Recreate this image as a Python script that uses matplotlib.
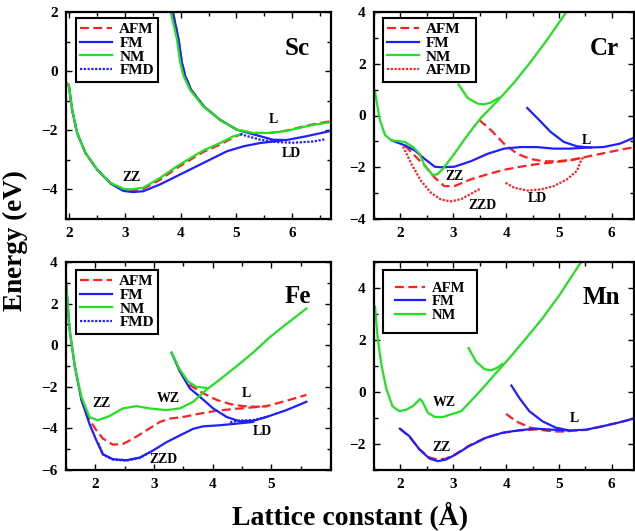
import matplotlib
matplotlib.use("Agg")
import matplotlib.pyplot as plt
from matplotlib.ticker import MultipleLocator

plt.rcParams['font.family'] = ['Liberation Serif', 'DejaVu Serif']
plt.rcParams['font.weight'] = 'bold'
plt.rcParams['axes.labelweight'] = 'bold'

RED = '#ff2020'
BLUE = '#1f1fff'
GREEN = '#22e022'

# ---------------- Sc ----------------
sc_nm_lower_x = [1.94, 1.99, 2.05, 2.14, 2.29, 2.5, 2.74, 2.97, 3.1, 3.33, 3.63, 3.93, 4.23, 4.41, 4.71, 4.95, 5.1]
sc_nm_lower_y = [-0.4, -0.47, -1.31, -2.09, -2.77, -3.33, -3.78, -3.98, -4.0, -3.94, -3.61, -3.22, -2.88, -2.68, -2.43, -2.2, -2.12]
sc_nm_upper_x = [3.82, 3.93, 3.99, 4.05, 4.17, 4.41, 4.71, 5.01, 5.31, 5.61, 5.9, 6.32, 6.7]
sc_nm_upper_y = [2.0, 1.1, 0.31, -0.15, -0.64, -1.2, -1.65, -1.98, -2.09, -2.09, -2.02, -1.84, -1.72]
sc_afm_lower_x = [1.94, 1.99, 2.05, 2.14, 2.29, 2.5, 2.74, 2.97, 3.1, 3.33, 3.63, 3.93, 4.23, 4.41, 4.71, 4.95, 5.1]
sc_afm_lower_y = [-0.4, -0.47, -1.31, -2.09, -2.77, -3.33, -3.78, -3.99, -4.03, -3.98, -3.67, -3.28, -2.93, -2.73, -2.48, -2.24, -2.12]
sc_afm_upper_x = [3.86, 3.96, 4.02, 4.08, 4.19, 4.42, 4.71, 5.01, 5.31, 5.61, 5.9, 6.32, 6.7]
sc_afm_upper_y = [2.0, 1.1, 0.31, -0.15, -0.64, -1.2, -1.65, -1.98, -2.09, -2.09, -2.01, -1.82, -1.69]
sc_fm_lower_x = [1.94, 1.99, 2.05, 2.14, 2.29, 2.5, 2.74, 2.97, 3.15, 3.33, 3.63, 3.93, 4.23, 4.53, 4.83, 5.13, 5.43, 5.8]
sc_fm_lower_y = [-0.4, -0.47, -1.31, -2.09, -2.77, -3.33, -3.8, -4.05, -4.09, -4.06, -3.83, -3.55, -3.27, -2.99, -2.71, -2.54, -2.43, -2.35]
sc_fm_upper_x = [3.86, 3.96, 4.02, 4.08, 4.19, 4.42, 4.71, 5.01, 5.2, 5.43, 5.66, 5.9, 6.26, 6.7]
sc_fm_upper_y = [2.0, 1.1, 0.31, -0.15, -0.64, -1.2, -1.65, -1.98, -2.08, -2.2, -2.32, -2.33, -2.2, -2.02]
sc_fmd_x = [5.07, 5.43, 5.72, 6.02, 6.38, 6.6]
sc_fmd_y = [-2.13, -2.32, -2.4, -2.42, -2.38, -2.3]

# ---------------- Cr ----------------
cr_nm_main_x = [1.52, 1.61, 1.71, 1.83, 2.08, 2.24, 2.36, 2.46, 2.61, 2.7, 2.8, 3.02, 3.27, 3.52, 3.83, 4.15, 4.46, 4.77, 5.15]
cr_nm_main_y = [0.9, -0.17, -0.76, -0.96, -1.02, -1.22, -1.48, -1.94, -2.3, -2.27, -2.07, -1.48, -0.76, -0.1, 0.55, 1.27, 2.06, 2.91, 4.03]
cr_nm_upper_x = [3.1, 3.27, 3.46, 3.58, 3.71, 3.86]
cr_nm_upper_y = [1.2, 0.68, 0.46, 0.43, 0.5, 0.68]
cr_fm_main_x = [1.83, 2.08, 2.27, 2.46, 2.65, 2.77, 3.02, 3.33, 3.65, 3.96, 4.27, 4.58, 4.9, 5.21, 5.53, 5.84, 6.15, 6.43]
cr_fm_main_y = [-0.96, -1.15, -1.35, -1.68, -1.98, -2.0, -1.98, -1.77, -1.48, -1.28, -1.22, -1.22, -1.28, -1.28, -1.24, -1.22, -1.09, -0.85]
cr_fm_upper_x = [4.4, 4.59, 4.84, 5.09, 5.34, 5.6]
cr_fm_upper_y = [0.29, -0.1, -0.63, -1.02, -1.19, -1.24]
cr_afm_main_x = [2.08, 2.27, 2.46, 2.65, 2.83, 3.02, 3.33, 3.65, 3.96, 4.27, 4.58, 4.9, 5.21, 5.53, 5.84, 6.15, 6.43]
cr_afm_main_y = [-1.15, -1.55, -1.94, -2.4, -2.73, -2.73, -2.47, -2.27, -2.1, -1.98, -1.88, -1.81, -1.74, -1.59, -1.46, -1.33, -1.22]
cr_afm_upper_x = [3.49, 3.71, 3.96, 4.21, 4.46, 4.71, 4.96, 5.21, 5.4]
cr_afm_upper_y = [-0.17, -0.56, -1.09, -1.48, -1.68, -1.77, -1.77, -1.72, -1.65]
cr_afmd_zzd_x = [2.05, 2.21, 2.39, 2.58, 2.77, 2.96, 3.15, 3.33, 3.51]
cr_afmd_zzd_y = [-1.2, -1.88, -2.53, -2.99, -3.25, -3.32, -3.23, -3.03, -2.83]
cr_afmd_ld_x = [3.99, 4.15, 4.4, 4.65, 4.9, 5.15, 5.34, 5.43, 5.5]
cr_afmd_ld_y = [-2.6, -2.79, -2.9, -2.86, -2.73, -2.47, -2.14, -1.68, -1.6]

# ---------------- Fe ----------------
fe_nm_main_x = [1.5, 1.56, 1.65, 1.76, 1.9, 2.04, 2.24, 2.47, 2.7, 2.93, 3.21, 3.44, 3.67, 3.89, 4.12, 4.41, 4.69, 4.97, 5.26, 5.6]
fe_nm_main_y = [3.05, 0.78, -1.01, -2.47, -3.45, -3.61, -3.41, -3.04, -2.93, -3.04, -3.12, -3.04, -2.72, -2.15, -1.66, -1.01, -0.36, 0.37, 1.02, 1.76]
fe_nm_upper_x = [3.3, 3.44, 3.58, 3.72, 3.89]
fe_nm_upper_y = [-0.36, -1.17, -1.74, -2.0, -2.05]
fe_fm_main_x = [1.5, 1.56, 1.65, 1.76, 1.9, 2.02, 2.13, 2.3, 2.53, 2.76, 2.98, 3.21, 3.44, 3.67, 3.84, 4.12, 4.41, 4.69]
fe_fm_main_y = [3.05, 0.78, -1.01, -2.6, -3.78, -4.59, -5.24, -5.48, -5.53, -5.4, -5.07, -4.67, -4.34, -4.02, -3.9, -3.85, -3.77, -3.69]
fe_fm_upper_x = [3.3, 3.44, 3.61, 3.78, 4.01, 4.24, 4.46, 4.69, 4.92, 5.26, 5.6]
fe_fm_upper_y = [-0.36, -1.25, -2.07, -2.47, -3.04, -3.45, -3.66, -3.64, -3.45, -3.12, -2.72]
fe_fmd_zzd_x = [2.05, 2.13, 2.3, 2.53, 2.76, 2.95]
fe_fmd_zzd_y = [-4.7, -5.26, -5.5, -5.55, -5.42, -5.12]
fe_fmd_ld_x = [4.3, 4.46, 4.69, 4.85, 4.95]
fe_fmd_ld_y = [-3.7, -3.62, -3.6, -3.5, -3.42]
fe_afm_main_x = [1.76, 1.87, 2.02, 2.13, 2.3, 2.47, 2.64, 2.87, 3.1, 3.27, 3.5, 3.78, 4.07, 4.35, 4.64, 4.92, 5.26, 5.6]
fe_afm_main_y = [-2.6, -3.45, -4.1, -4.49, -4.78, -4.75, -4.5, -4.1, -3.69, -3.53, -3.45, -3.29, -3.15, -3.07, -3.0, -2.93, -2.67, -2.39]
fe_afm_upper_x = [3.6, 3.84, 4.07, 4.3, 4.52, 4.75, 4.95]
fe_afm_upper_y = [-1.9, -2.31, -2.63, -2.83, -2.93, -2.96, -2.93]

# ---------------- Mn ----------------
mn_nm_main_x = [1.52, 1.57, 1.64, 1.73, 1.85, 1.98, 2.11, 2.23, 2.3, 2.37, 2.42, 2.52, 2.65, 2.81, 2.99, 3.15, 3.3, 3.56, 3.81, 4.06, 4.38, 4.69, 5.01, 5.38, 5.44]
mn_nm_main_y = [3.28, 2.07, 1.05, 0.15, -0.55, -0.74, -0.68, -0.55, -0.42, -0.27, -0.38, -0.8, -0.96, -0.96, -0.84, -0.74, -0.42, 0.15, 0.73, 1.3, 2.07, 2.84, 3.73, 4.88, 5.03]
mn_nm_upper_x = [3.29, 3.43, 3.59, 3.71, 3.84, 3.93]
mn_nm_upper_y = [1.69, 1.17, 0.88, 0.83, 0.94, 1.08]
mn_fm_main_x = [1.99, 2.17, 2.36, 2.55, 2.71, 2.86, 3.05, 3.3, 3.62, 3.93, 4.25, 4.56, 4.88, 5.19, 5.51, 5.82, 6.14, 6.42]
mn_fm_main_y = [-1.41, -1.7, -2.21, -2.56, -2.66, -2.6, -2.4, -2.08, -1.76, -1.57, -1.47, -1.41, -1.45, -1.48, -1.45, -1.32, -1.17, -1.02]
mn_fm_upper_x = [4.1, 4.25, 4.44, 4.69, 4.94, 5.19]
mn_fm_upper_y = [0.25, -0.23, -0.74, -1.13, -1.37, -1.48]
mn_afm_main_x = [1.99, 2.17, 2.36, 2.55, 2.71, 2.86, 3.05, 3.3, 3.62, 3.93, 4.25, 4.56, 4.88, 5.19, 5.51, 5.82, 6.14, 6.42]
mn_afm_main_y = [-1.41, -1.72, -2.2, -2.52, -2.6, -2.56, -2.38, -2.06, -1.75, -1.57, -1.48, -1.44, -1.47, -1.5, -1.46, -1.32, -1.17, -1.02]
mn_afm_upper_x = [4.0, 4.19, 4.44, 4.69, 4.94, 5.19]
mn_afm_upper_y = [-0.84, -1.13, -1.36, -1.47, -1.52, -1.52]

W, H = 635, 531
fig = plt.figure(figsize=(W / 100, H / 100), dpi=100)


def px_axes(l, t, r, b):
    return fig.add_axes([l / W, 1 - b / H, (r - l) / W, (b - t) / H])


LW = 1.6
AFM_KW = dict(color=RED, lw=LW, dashes=(4, 2))
FM_KW = dict(color=BLUE, lw=LW)
NM_KW = dict(color=GREEN, lw=LW)
DOT_BLUE = dict(color=BLUE, lw=LW, dashes=(1, 0.7))
DOT_RED = dict(color=RED, lw=LW, dashes=(1, 0.7))


def style(ax, xlim, ylim, yticks):
    ax.set_xlim(*xlim)
    ax.set_ylim(*ylim)
    ax.set_xticks([2, 3, 4, 5, 6])
    ax.set_yticks(yticks)
    ax.xaxis.set_minor_locator(MultipleLocator(0.5))
    ax.yaxis.set_minor_locator(MultipleLocator(1))
    ax.tick_params(which='both', direction='in', top=True, right=True, width=1.0)
    ax.tick_params(which='major', length=4.5, labelsize=11, pad=6)
    ax.tick_params(which='minor', length=3)
    for s in ax.spines.values():
        s.set_linewidth(1.6)
    for lab in ax.get_xticklabels() + ax.get_yticklabels():
        lab.set_fontweight('bold')


def legend(ax, anchor, bpad=0.28, size=11):
    lg = ax.legend(loc='upper left', bbox_to_anchor=anchor, fancybox=False,
                   edgecolor='black', framealpha=1,
                   handlelength=2.1, handletextpad=0.45, labelspacing=0.0,
                   borderpad=bpad, borderaxespad=0, prop={'weight': 'bold', 'size': size})
    lg.get_frame().set_linewidth(1.5)


def ann(ax, x, y, s, size=10):
    ax.text(x, y, s, fontsize=size, fontweight='bold', ha='center', va='center')


# Sc panel
ax = px_axes(66, 12, 331, 219)
ax.plot(sc_afm_lower_x, sc_afm_lower_y, label='AFM', **AFM_KW)
ax.plot(sc_afm_upper_x, sc_afm_upper_y, **AFM_KW)
ax.plot(sc_fm_lower_x, sc_fm_lower_y, label='FM', **FM_KW)
ax.plot(sc_fm_upper_x, sc_fm_upper_y, **FM_KW)
ax.plot(sc_nm_lower_x, sc_nm_lower_y, label='NM', **NM_KW)
ax.plot(sc_nm_upper_x, sc_nm_upper_y, **NM_KW)
ax.plot(sc_fmd_x, sc_fmd_y, label='FMD', **DOT_BLUE)
style(ax, (1.94, 6.7), (-5, 2), [-4, -2, 0, 2])
legend(ax, (0.038, 0.97))
ann(ax, 6.1, 0.78, 'Sc', 18)
ann(ax, 3.12, -3.6, 'ZZ')
ann(ax, 5.66, -1.65, 'L')
ann(ax, 5.98, -2.78, 'LD')

# Cr panel
ax = px_axes(374, 12, 634, 219)
ax.plot(cr_afm_main_x, cr_afm_main_y, label='AFM', **AFM_KW)
ax.plot(cr_afm_upper_x, cr_afm_upper_y, **AFM_KW)
ax.plot(cr_fm_main_x, cr_fm_main_y, label='FM', **FM_KW)
ax.plot(cr_fm_upper_x, cr_fm_upper_y, **FM_KW)
ax.plot(cr_nm_main_x, cr_nm_main_y, label='NM', **NM_KW)
ax.plot(cr_nm_upper_x, cr_nm_upper_y, **NM_KW)
ax.plot(cr_afmd_zzd_x, cr_afmd_zzd_y, label='AFMD', **DOT_RED)
ax.plot(cr_afmd_ld_x, cr_afmd_ld_y, **DOT_RED)
style(ax, (1.5, 6.42), (-4, 4), [-4, -2, 0, 2, 4])
legend(ax, (0.034, 0.97))
ann(ax, 5.85, 2.58, 'Cr', 18)
ann(ax, 3.03, -2.34, 'ZZ')
ann(ax, 3.55, -3.48, 'ZZD')
ann(ax, 5.52, -0.96, 'L')
ann(ax, 4.6, -3.2, 'LD')

# Fe panel
ax = px_axes(66, 262, 331, 470)
ax.plot(fe_afm_main_x, fe_afm_main_y, label='AFM', **AFM_KW)
ax.plot(fe_afm_upper_x, fe_afm_upper_y, **AFM_KW)
ax.plot(fe_fm_main_x, fe_fm_main_y, label='FM', **FM_KW)
ax.plot(fe_fm_upper_x, fe_fm_upper_y, **FM_KW)
ax.plot(fe_nm_main_x, fe_nm_main_y, label='NM', **NM_KW)
ax.plot(fe_nm_upper_x, fe_nm_upper_y, **NM_KW)
ax.plot(fe_fmd_zzd_x, fe_fmd_zzd_y, label='FMD', **DOT_BLUE)
ax.plot(fe_fmd_ld_x, fe_fmd_ld_y, **DOT_BLUE)
style(ax, (1.5, 6.02), (-6, 4), [-6, -4, -2, 0, 2, 4])
ax.set_xticks([2, 3, 4, 5])
legend(ax, (0.038, 0.96))
ann(ax, 5.45, 2.32, 'Fe', 18)
ann(ax, 2.1, -2.8, 'ZZ')
ann(ax, 3.24, -2.55, 'WZ')
ann(ax, 4.58, -2.3, 'L')
ann(ax, 4.85, -4.13, 'LD')
ann(ax, 3.17, -5.48, 'ZZD')

# Mn panel
ax = px_axes(374, 262, 634, 470)
ax.plot(mn_afm_main_x, mn_afm_main_y, label='AFM', **AFM_KW)
ax.plot(mn_afm_upper_x, mn_afm_upper_y, **AFM_KW)
ax.plot(mn_fm_main_x, mn_fm_main_y, label='FM', **FM_KW)
ax.plot(mn_fm_upper_x, mn_fm_upper_y, **FM_KW)
ax.plot(mn_nm_main_x, mn_nm_main_y, label='NM', **NM_KW)
ax.plot(mn_nm_upper_x, mn_nm_upper_y, **NM_KW)
style(ax, (1.5, 6.42), (-3, 5), [-2, 0, 2, 4])
legend(ax, (0.034, 0.96), bpad=0.8, size=10.5)
ann(ax, 5.8, 3.65, 'Mn', 18)
ann(ax, 2.83, -0.42, 'WZ')
ann(ax, 2.77, -2.12, 'ZZ')
ann(ax, 5.29, -1.0, 'L')

fig.text(15 / W, 1 - 241 / H, 'Energy (eV)', rotation=90, fontsize=19.5,
         fontweight='bold', ha='center', va='center')
fig.text(350 / W, 1 - 516 / H, 'Lattice constant (Å)', fontsize=20,
         fontweight='bold', ha='center', va='center')

fig.savefig('out.png', dpi=100)
